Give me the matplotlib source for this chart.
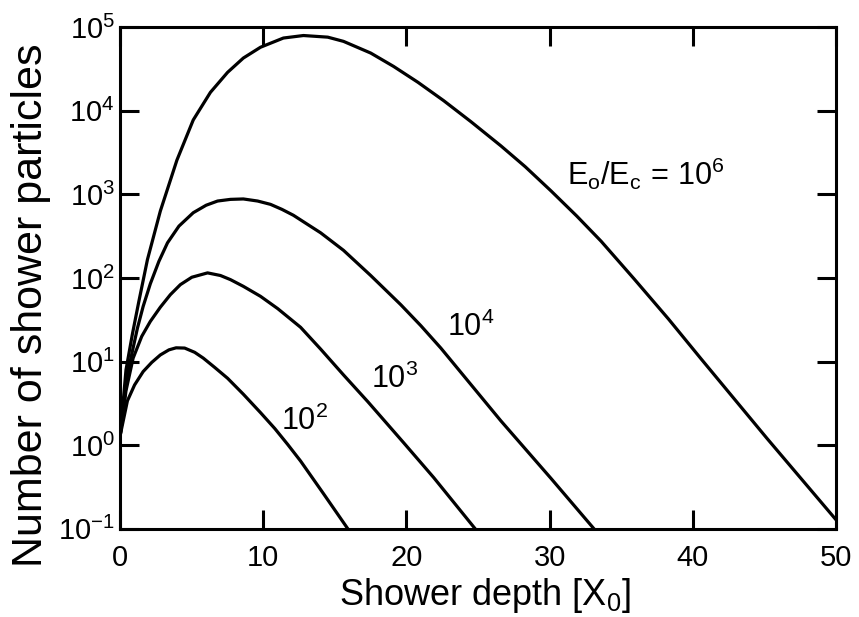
import matplotlib
matplotlib.use("Agg")
import matplotlib.pyplot as plt
from matplotlib.ticker import LogFormatterSciNotation, NullLocator

plt.rcParams['font.family'] = ['Liberation Sans', 'DejaVu Sans']
plt.rcParams['mathtext.fontset'] = 'custom'
plt.rcParams['mathtext.rm'] = 'Liberation Sans'
plt.rcParams['mathtext.it'] = 'Liberation Sans'
plt.rcParams['mathtext.default'] = 'regular'

# values: depth [X0], number of particles
x_e2 = [0.0, 0.5, 1.0, 1.6, 2.2, 2.8, 3.4, 3.9, 4.5, 5.2, 5.8, 6.6, 7.5, 8.6,
        9.8, 10.8, 11.7, 12.6, 14.2, 15.9]
n_e2 = [1.32, 3.39, 5.25, 7.59, 9.77, 12.0, 13.8, 14.6, 14.5, 12.9, 11.0, 8.51, 6.31, 4.07,
        2.45, 1.58, 1.02, 0.646, 0.263, 0.10]

x_e3 = [0.0, 0.4, 0.9, 1.5, 2.1, 2.8, 3.5, 4.2, 5.0, 6.1, 7.0, 7.7, 8.6, 9.8,
        11.0, 12.6, 14.0, 15.6, 17.3, 19.8, 21.9, 24.8]
n_e3 = [1.32, 4.47, 11.0, 20.0, 30.2, 44.7, 63.1, 83.2, 102, 115, 107, 95.5, 79.4, 60.3,
        43.0, 25.7, 14.1, 6.92, 3.31, 1.07, 0.41, 0.10]

x_e4 = [0.0, 0.5, 1.2, 1.6, 2.1, 2.7, 3.3, 4.1, 5.1, 6.0, 6.8, 7.7, 8.6, 9.6, 10.5,
        11.3, 12.1, 13.0, 14.0, 15.6, 17.5, 19.6, 21.0, 22.4, 26.6, 30.1, 33.1]
n_e4 = [1.32, 7.08, 25.1, 45.7, 85.1, 158, 263, 417, 603, 741, 832, 871, 881, 832, 759,
        661, 562, 447, 347, 214, 107, 47.9, 26.9, 14.5, 1.95, 0.40, 0.10]

x_e6 = [0.0, 0.4, 0.85, 1.3, 1.9, 2.8, 3.96, 5.1, 6.3, 7.5, 8.6, 9.8, 11.4, 12.8, 14.5,
        15.6, 17.5, 19.1, 20.8, 22.6, 24.5, 26.6, 28.3, 30.1, 31.9, 33.6, 35.9, 38.3,
        40.6, 45.2, 50.0]
n_e6 = [1.32, 7.94, 21.4, 52.5, 166, 631, 2570, 7760, 16600, 28800, 42700, 57500, 74100,
        79400, 75900, 67600, 49000, 33900, 21900, 13200, 7410, 3800, 2140, 1100, 550, 275,
        97.7, 32.4, 10.7, 1.20, 0.129]

curve_labels = [r'$10^2$', r'$10^3$', r'$10^4$', r'$E_o / E_c\,=\,10^6$']
label_x = [12.9, 19.2, 24.5, 36.7]
label_y = [1.95, 6.2, 26.0, 1780]

x_ticks = [0, 10, 20, 30, 40, 50]
y_ticks = [1e-1, 1e0, 1e1, 1e2, 1e3, 1e4, 1e5]

fig = plt.figure(figsize=(8.59, 6.17), dpi=100)
ax = fig.add_axes([0.140, 0.143, 0.833, 0.813])

for xs, ns in [(x_e2, n_e2), (x_e3, n_e3), (x_e4, n_e4), (x_e6, n_e6)]:
    ax.plot(xs, ns, color='black', lw=2.3, solid_joinstyle='round')

for txt, lx, ly in zip(curve_labels, label_x, label_y):
    ax.text(lx, ly, txt, fontsize=22, ha='center', va='center')

ax.set_yscale('log')
ax.set_xlim(0, 50)
ax.set_ylim(0.1, 1e5)
ax.set_xticks(x_ticks)
ax.set_yticks(y_ticks)
ax.yaxis.set_major_formatter(LogFormatterSciNotation())
ax.yaxis.set_minor_locator(NullLocator())

ax.tick_params(axis='both', which='major', direction='in', length=14, width=2.2,
               top=True, right=True, labelsize=21)
ax.tick_params(axis='x', pad=11)
ax.tick_params(axis='y', pad=4)
for sp in ax.spines.values():
    sp.set_linewidth(2.2)

ax.set_xlabel(r'Shower depth [X$_0$]', fontsize=26)
ax.set_ylabel('Number of shower particles', fontsize=31)
ax.xaxis.set_label_coords(0.51, -0.094)
ax.yaxis.set_label_coords(-0.097, 0.446)

fig.savefig('out.png', dpi=100)
